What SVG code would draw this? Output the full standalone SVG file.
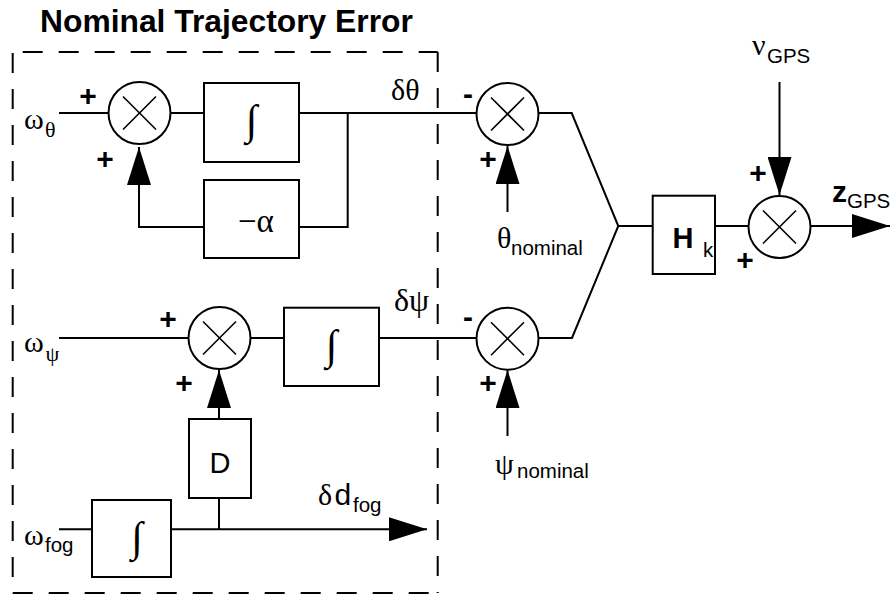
<svg xmlns="http://www.w3.org/2000/svg" width="891" height="596" viewBox="0 0 891 596">
<style>
.ln{fill:none;stroke:#000;stroke-width:2}
.bx{fill:#fff;stroke:#000;stroke-width:2}
.sum{fill:#fff;stroke:#000;stroke-width:2}
.x{stroke:#000;stroke-width:1.6}
.dash{fill:none;stroke:#000;stroke-width:2;stroke-dasharray:20 16}
.sans{font-family:"Liberation Sans",Arial,sans-serif;fill:#000}
.serif{font-family:"Liberation Serif","Times New Roman",serif;fill:#000}
.sg{font-family:"Liberation Serif","Times New Roman",serif;font-size:30px}
.sub{font-family:"Liberation Sans",Arial,sans-serif;font-size:20.5px}
.ssub{font-family:"Liberation Serif","Times New Roman",serif;font-size:22px}
.pm{font-family:"Liberation Sans",Arial,sans-serif;font-weight:bold;font-size:30px;text-anchor:middle}
.int{font-family:"Liberation Serif","Times New Roman",serif;font-size:42px;text-anchor:middle}
</style>
<defs>
<marker id="ah" markerUnits="userSpaceOnUse" viewBox="0 0 38 24" refX="38" refY="12" markerWidth="38" markerHeight="24" orient="auto">
<path d="M0,0 L38,12 L0,24 z" fill="#000"/>
</marker>
<g id="sumsym">
<circle r="31" class="sum"/>
<line x1="-16.5" y1="-16.5" x2="16.5" y2="16.5" class="x"/>
<line x1="-16.5" y1="16.5" x2="16.5" y2="-16.5" class="x"/>
</g>
</defs>
<rect width="891" height="596" fill="#fff"/>

<g id="title"><text x="40" y="32" class="sans" font-weight="bold" font-size="31.8">Nominal Trajectory Error</text></g>

<g id="boundary">
<line x1="12.7" y1="52" x2="437.7" y2="52" class="dash" stroke-dashoffset="26"/>
<line x1="12.7" y1="53" x2="12.7" y2="593" class="dash"/>
<line x1="437.7" y1="52" x2="437.7" y2="593" class="dash"/>
<line x1="12.7" y1="593" x2="437.7" y2="593" class="dash"/>
</g>

<g id="connectors">
<line x1="59" y1="113" x2="108" y2="113" class="ln"/>
<line x1="171" y1="113" x2="204" y2="113" class="ln"/>
<line x1="299" y1="113" x2="476" y2="113" class="ln"/>
<polyline points="347.7,113 347.7,227 299,227" class="ln"/>
<polyline points="204,227 139,227 139,147" class="ln" marker-end="url(#ah)"/>
<line x1="59" y1="338" x2="188" y2="338" class="ln"/>
<line x1="251" y1="338" x2="284" y2="338" class="ln"/>
<line x1="379" y1="338" x2="476" y2="338" class="ln"/>
<line x1="219" y1="419" x2="219" y2="370" class="ln" marker-end="url(#ah)"/>
<line x1="219" y1="498" x2="219" y2="529.3" class="ln"/>
<line x1="59" y1="529.3" x2="92" y2="529.3" class="ln"/>
<line x1="171" y1="529.3" x2="427" y2="529.3" class="ln" marker-end="url(#ah)"/>
<line x1="507.5" y1="212" x2="507.5" y2="146" class="ln" marker-end="url(#ah)"/>
<line x1="507.5" y1="436" x2="507.5" y2="370" class="ln" marker-end="url(#ah)"/>
<polyline points="539,113 571.7,113 618.3,226 572,338 539,338" class="ln"/>
<line x1="618.3" y1="226" x2="652.7" y2="226" class="ln"/>
<line x1="715" y1="226" x2="748.5" y2="226" class="ln"/>
<line x1="779.5" y1="82" x2="779.5" y2="195" class="ln" marker-end="url(#ah)"/>
<line x1="810.5" y1="226" x2="890" y2="226" class="ln" marker-end="url(#ah)"/>
</g>

<g id="sum1"><use href="#sumsym" x="139.5" y="113"/>
<text x="88" y="106" class="pm">+</text><text x="105" y="169" class="pm">+</text></g>
<g id="int1"><rect x="204" y="83" width="95" height="79" class="bx"/><text x="251.5" y="134" class="int">∫</text></g>
<g id="alpha"><rect x="204" y="180" width="95" height="78" class="bx"/><text x="238" y="232" class="serif" font-size="33">−α</text></g>

<g id="sum2"><use href="#sumsym" x="219.5" y="338"/>
<text x="168" y="329" class="pm">+</text><text x="184" y="393" class="pm">+</text></g>
<g id="int2"><rect x="284" y="307.7" width="95" height="78.3" class="bx"/><text x="331.5" y="359" class="int">∫</text></g>
<g id="dgain"><rect x="189" y="419" width="62" height="79" class="bx"/><text x="220" y="473" class="sans" font-size="29" text-anchor="middle">D</text></g>
<g id="int3"><rect x="92" y="500" width="79" height="77" class="bx"/><text x="137" y="551" class="int">∫</text></g>

<g id="sum3"><use href="#sumsym" x="507.5" y="114"/>
<text x="468" y="104" class="pm">-</text><text x="488" y="169" class="pm">+</text></g>
<g id="sum4"><use href="#sumsym" x="507.5" y="338.7"/>
<text x="468" y="327" class="pm">-</text><text x="488" y="393" class="pm">+</text></g>
<g id="hk"><rect x="652.7" y="195.7" width="62.3" height="78.3" class="bx"/>
<text x="672.5" y="248" class="sans" font-weight="bold" font-size="29">H</text><text x="703" y="257" class="sub">k</text></g>
<g id="sum5"><use href="#sumsym" x="779.5" y="227"/>
<text x="758" y="183" class="pm">+</text><text x="745" y="270" class="pm">+</text></g>

<g id="labels">
<text x="24" y="129" class="sg" font-size="31">ω</text><text x="45" y="137" class="ssub">θ</text>
<text x="24" y="352" class="sg" font-size="31">ω</text><text x="45.5" y="361" class="ssub" font-size="26">ψ</text>
<text x="24" y="545" class="sg" font-size="31">ω</text><text x="45" y="552" class="sub">fog</text>
<text x="391" y="100" class="serif" font-size="30">δθ</text>
<text x="394" y="311" class="serif" font-size="32">δψ</text>
<text x="318" y="505" class="serif" font-size="30">δ</text><text x="334.5" y="505" class="sans" font-size="30">d</text><text x="353" y="512" class="sub">fog</text>
<text x="497" y="248" class="sg">θ</text><text x="511" y="255" class="sub">nominal</text>
<text x="495" y="474" class="sg" font-size="34">ψ</text><text x="517" y="478" class="sub">nominal</text>
<text x="752" y="55" class="sg">ν</text><text x="767" y="63" class="sub">GPS</text>
<text x="832" y="202" class="sans" font-weight="bold" font-size="30">z</text><text x="847" y="208" class="sub">GPS</text>
</g>
</svg>
